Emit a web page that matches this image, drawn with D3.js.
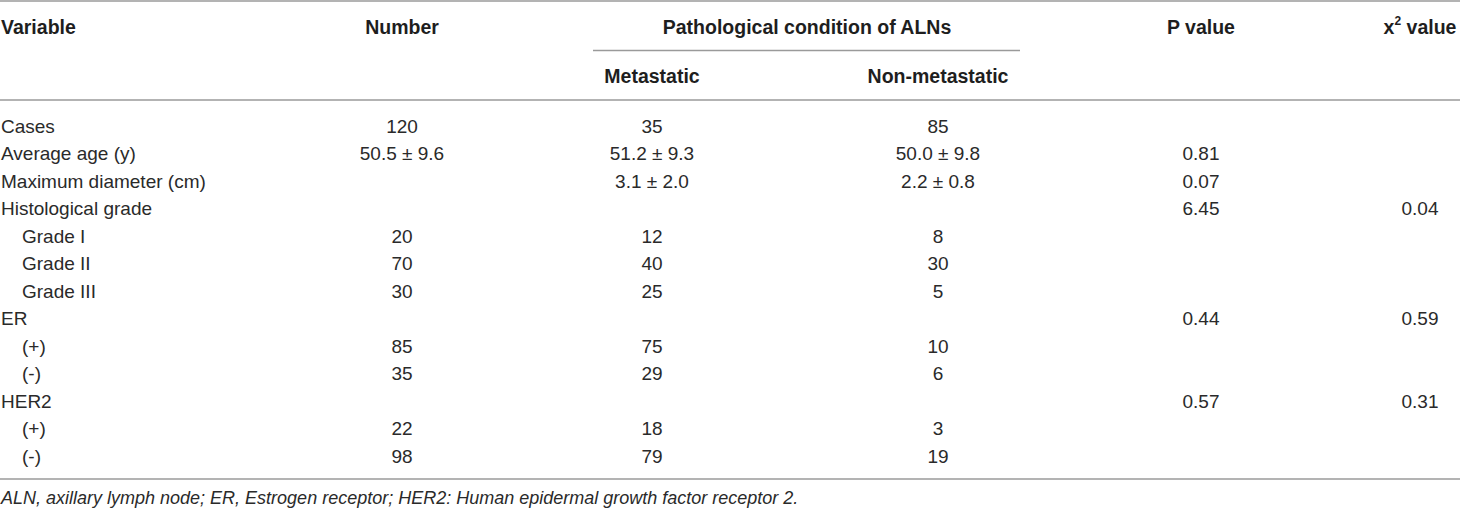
<!DOCTYPE html>
<html>
<head>
<meta charset="utf-8">
<script src="https://cdn.jsdelivr.net/npm/d3@7"></script>
<style>
  html, body { margin: 0; padding: 0; background: #fff; }
</style>
</head>
<body>
<script>
// 表格数据
const variables = ["Cases", "Average age (y)", "Maximum diameter (cm)", "Histological grade",
  "Grade I", "Grade II", "Grade III", "ER", "(+)", "(-)", "HER2", "(+)", "(-)"];
const levels = [0, 0, 0, 0, 1, 1, 1, 0, 1, 1, 0, 1, 1];
const numbers = ["120", "50.5 ± 9.6", "", "", "20", "70", "30", "", "85", "35", "", "22", "98"];
const metastatic = ["35", "51.2 ± 9.3", "3.1 ± 2.0", "", "12", "40", "25", "", "75", "29", "", "18", "79"];
const nonMetastatic = ["85", "50.0 ± 9.8", "2.2 ± 0.8", "", "8", "30", "5", "", "10", "6", "", "3", "19"];
const pValues = ["", "0.81", "0.07", "6.45", "", "", "", "0.44", "", "", "0.57", "", ""];
const x2Values = ["", "", "", "0.04", "", "", "", "0.59", "", "", "0.31", "", ""];
const footnote = "ALN, axillary lymph node; ER, Estrogen receptor; HER2: Human epidermal growth factor receptor 2.";

const width = 1460, height = 510;
const font = "'Liberation Sans', Arial, Helvetica, sans-serif";

const svg = d3.select("body").append("svg")
  .attr("width", width)
  .attr("height", height)
  .style("font-family", font);

// 列位置
const colKeys = ["number", "metastatic", "nonMetastatic", "p", "x2"];
const x = d3.scaleOrdinal().domain(colKeys).range([402, 652, 938, 1201, 1420]);
const columns = { number: numbers, metastatic: metastatic, nonMetastatic: nonMetastatic, p: pValues, x2: x2Values };

// 行位置
const y = d3.scaleLinear().domain([0, variables.length - 1]).range([126, 456]);

const lineColor = "#9a9a9a";
const textColor = "#2a2a2a";

// 横线
const rules = [
  { x1: 0, x2: width, y: 1 },
  { x1: 593, x2: 1020, y: 50.5 },
  { x1: 0, x2: width, y: 100 },
  { x1: 0, x2: width, y: 479 }
];
svg.append("g")
  .attr("stroke", lineColor)
  .attr("stroke-width", 1.5)
  .selectAll("line")
  .data(rules)
  .join("line")
  .attr("x1", d => d.x1)
  .attr("x2", d => d.x2)
  .attr("y1", d => d.y)
  .attr("y2", d => d.y);

// 表头
const head = svg.append("g")
  .attr("font-weight", "bold")
  .attr("font-size", 19.5)
  .attr("fill", "#1e1e1e")
  .attr("dy", "0.35em");

head.append("text").attr("x", 1).attr("y", 27).attr("dy", "0.35em").text("Variable");
head.append("text").attr("x", x("number")).attr("y", 27).attr("dy", "0.35em")
  .attr("text-anchor", "middle").text("Number");
head.append("text").attr("x", 807).attr("y", 27).attr("dy", "0.35em")
  .attr("text-anchor", "middle").text("Pathological condition of ALNs");
head.append("text").attr("x", x("metastatic")).attr("y", 76).attr("dy", "0.35em")
  .attr("text-anchor", "middle").text("Metastatic");
head.append("text").attr("x", x("nonMetastatic")).attr("y", 76).attr("dy", "0.35em")
  .attr("text-anchor", "middle").text("Non-metastatic");
head.append("text").attr("x", x("p")).attr("y", 27).attr("dy", "0.35em")
  .attr("text-anchor", "middle").text("P value");
const x2Head = head.append("text").attr("x", x("x2")).attr("y", 27).attr("dy", "0.35em")
  .attr("text-anchor", "middle");
x2Head.append("tspan").text("x");
x2Head.append("tspan").attr("font-size", 12).attr("dy", "-0.7em").text("2");
x2Head.append("tspan").attr("dy", "0.45em").text(" value");

// 第一列
const body = svg.append("g")
  .attr("font-size", 19)
  .attr("fill", textColor);

body.selectAll("text.var")
  .data(variables)
  .join("text")
  .attr("class", "var")
  .attr("x", (d, i) => 1 + levels[i] * 21)
  .attr("y", (d, i) => y(i))
  .attr("dy", "0.35em")
  .text(d => d);

// 数值列
colKeys.forEach(k => {
  body.selectAll(`text.${k}`)
    .data(columns[k])
    .join("text")
    .attr("class", k)
    .attr("x", x(k))
    .attr("y", (d, i) => y(i))
    .attr("dy", "0.35em")
    .attr("text-anchor", "middle")
    .text(d => d);
});

// 注释
svg.append("text")
  .attr("x", 1)
  .attr("y", 498)
  .attr("dy", "0.35em")
  .attr("font-size", 18)
  .attr("font-style", "italic")
  .attr("fill", textColor)
  .text(footnote);
</script>
</body>
</html>
